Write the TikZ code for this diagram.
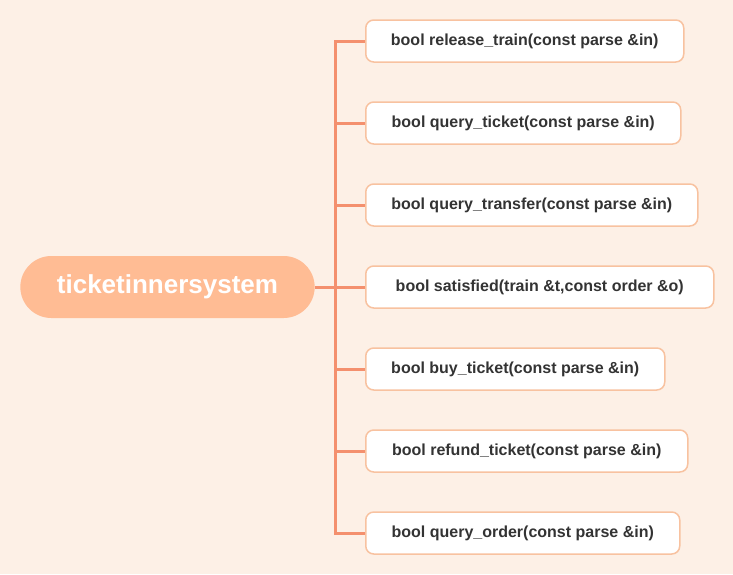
\documentclass[tikz,border=0pt]{standalone}
\usepackage{fontspec}
\setmainfont{Liberation Sans}
\usetikzlibrary{shapes.misc}
\definecolor{bg}{HTML}{FDF0E6}
\definecolor{rootfill}{HTML}{FFBC94}
\definecolor{linec}{HTML}{F4906E}
\definecolor{boxline}{HTML}{F8C2A0}
\definecolor{txt}{HTML}{333333}
\tikzset{
  rootbox/.style={rounded rectangle, fill=rootfill, draw=none, minimum width=301pt, minimum height=62pt, text=white, font=\fontsize{26}{30}\selectfont\bfseries},
  leafbox/.style={rectangle, rounded corners=8pt, draw=boxline, line width=1.5pt, fill=white, minimum height=42pt, inner xsep=0pt, anchor=west, text=txt, font=\fontsize{16}{19}\selectfont\bfseries},
  conn/.style={draw=linec, line width=3pt}
}
\begin{document}
\begin{tikzpicture}[x=1pt,y=-1pt]
\fill[bg] (0,0) rectangle (733,574);
\useasboundingbox (0,0) rectangle (733,574);
\node[rootbox] (root) at (167.5,287) {ticketinnersystem};
\coordinate (j) at (335,287);
\node[leafbox, minimum width=318pt] (b1) at (365,41) {bool release\_train(const parse \&in)};
\node[leafbox, minimum width=315pt] (b2) at (365,123) {bool query\_ticket(const parse \&in)};
\node[leafbox, minimum width=332pt] (b3) at (365,205) {bool query\_transfer(const parse \&in)};
\node[leafbox, minimum width=348pt] (b4) at (365,287) {bool satisfied(train \&t,const order \&o)};
\node[leafbox, minimum width=299pt] (b5) at (365,369) {bool buy\_ticket(const parse \&in)};
\node[leafbox, minimum width=322pt] (b6) at (365,451) {bool refund\_ticket(const parse \&in)};
\node[leafbox, minimum width=314pt] (b7) at (365,533) {bool query\_order(const parse \&in)};
\draw[conn] (root.east) -- (j);
\foreach \b in {b1,b2,b3,b4,b5,b6,b7} {
  \draw[conn] (j) |- (\b.west);
}
\end{tikzpicture}
\end{document}
